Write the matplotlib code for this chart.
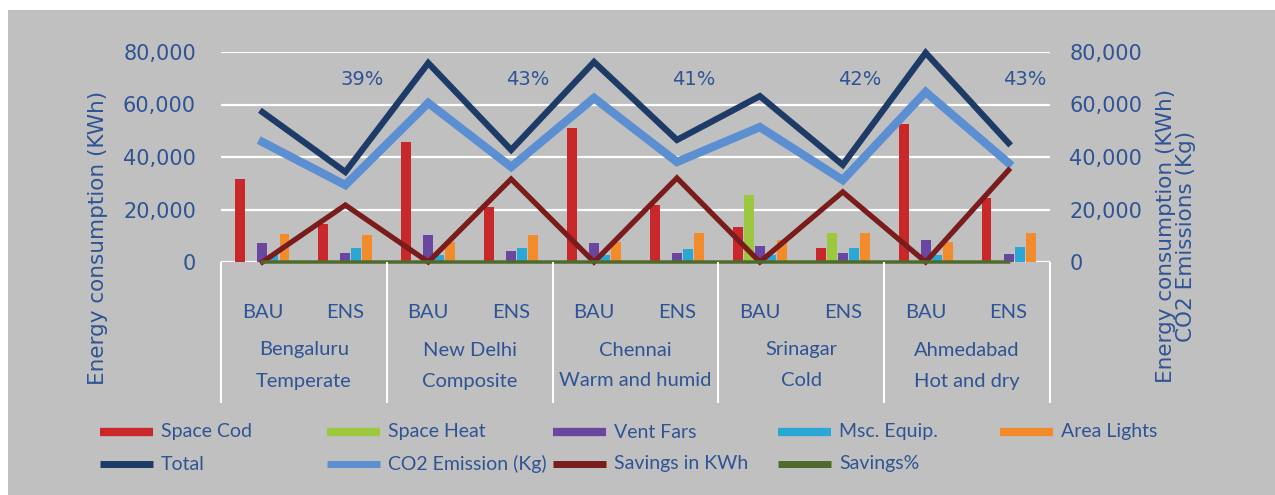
import matplotlib
matplotlib.use("Agg")
import matplotlib.pyplot as plt
import matplotlib.transforms as mtrans
from matplotlib.patches import Rectangle
from matplotlib.lines import Line2D
import numpy as np

# ---------------- data ----------------
scenarios = ["BAU", "ENS"] * 5
cities = ["Bengaluru", "New Delhi", "Chennai", "Srinagar", "Ahmedabad"]
climates = ["Temperate", "Composite", "Warm and humid", "Cold", "Hot and dry"]

space_cod = [31600, 14500, 45700, 21000, 51000, 21700, 13300, 5300, 52600, 24400]
space_heat = [0, 0, 0, 0, 0, 0, 25500, 11000, 0, 0]
vent_fars = [7200, 3400, 10300, 4200, 7200, 3400, 6100, 3400, 8400, 3000]
msc_equip = [2500, 5300, 2500, 5300, 2500, 5000, 2500, 5300, 2500, 5700]
area_lights = [10500, 10300, 7500, 10300, 7500, 11000, 8400, 11000, 7500, 11000]

total = [57100, 34300, 75800, 42700, 76200, 46500, 63200, 37000, 79700, 45300]
co2 = [45700, 29300, 60600, 36200, 62500, 38100, 51400, 31200, 64800, 37700]
savings_kwh = [0, 21700, 0, 31600, 0, 32000, 0, 26700, 0, 35000]
savings_pct = [0, 0.39, 0, 0.43, 0, 0.41, 0, 0.42, 0, 0.43]
pct_labels = ["39%", "43%", "41%", "42%", "43%"]

yticks = [0, 20000, 40000, 60000, 80000]

# ---------------- style ----------------
TXT = "#2f5496"
LEG_FONT = ["Lato", "DejaVu Sans"]
AX_FONT = ["DejaVu Sans"]
plt.rcParams["font.family"] = LEG_FONT

bar_series = [
    ("Space Cod", space_cod, "#c9282b"),
    ("Space Heat", space_heat, "#9cc83f"),
    ("Vent Fars", vent_fars, "#6b46a0"),
    ("Msc. Equip.", msc_equip, "#2ba7d6"),
    ("Area Lights", area_lights, "#f28b2c"),
]
line_series = [
    ("Total", total, "#1d3b66", 4.5),
    ("CO2 Emission (Kg)", co2, "#5b8fd2", 6.0),
    ("Savings in KWh", savings_kwh, "#7a1c1c", 3.8),
    ("Savings%", savings_pct, "#4f6b2b", 2.5),
]

W, H = 1275, 495
fig = plt.figure(figsize=(W / 100, H / 100), dpi=100)
fig.patch.set_facecolor("white")
fig.add_artist(Rectangle((8 / W, 0), 1 - 8 / W, 1 - 10 / H, transform=fig.transFigure,
                         facecolor="#c0c0c0", edgecolor="none", zorder=-10))

def fy(p):
    return 1 - p / H

x_left, x_right = 221, 1050
y_top, y_bot = 52, 262
ax = fig.add_axes([x_left / W, 1 - y_bot / H, (x_right - x_left) / W, (y_bot - y_top) / H])
ax.set_facecolor("none")
n = len(scenarios)
x = np.arange(n)
ax.set_xlim(-0.5, n - 0.5)
ax.set_ylim(0, 80000)
for s in ax.spines.values():
    s.set_visible(False)
ax.set_yticks(yticks)
ax.yaxis.grid(True, color="white", linewidth=1.6)
ax.set_axisbelow(True)
ax.tick_params(axis="both", length=0)
ax.set_xticks([])
ax.set_yticklabels([f"{v:,}" for v in yticks], color=TXT, fontsize=15, family=AX_FONT)
ax.tick_params(axis="y", pad=18)

ax2 = ax.twinx()
ax2.set_ylim(0, 80000)
for s in ax2.spines.values():
    s.set_visible(False)
ax2.set_yticks(yticks)
ax2.set_yticklabels([f"{v:,}" for v in yticks], color=TXT, fontsize=15, family=AX_FONT)
ax2.tick_params(axis="y", length=0, pad=14)
ax2.set_zorder(ax.get_zorder() - 1)

bw = 0.12
step = 0.133
for i, (name, vals, col) in enumerate(bar_series):
    ax.bar(x + (i - 2) * step, vals, width=bw, color=col, zorder=2)

for name, vals, col, lw in line_series:
    ax.plot(x, vals, color=col, linewidth=lw, solid_joinstyle="miter", zorder=3, clip_on=False)

ens_idx = x[1::2]
for xi, lab in zip(ens_idx, pct_labels):
    ax.text(xi + 0.2, 69500, lab, color=TXT, fontsize=14, ha="center", va="center",
            zorder=4, family=AX_FONT)

# axis titles
fig.text(98 / W, fy(238), "Energy consumption (KWh)", rotation=90, ha="center", va="center",
         color=TXT, fontsize=15.5, family=AX_FONT)
fig.text(1176 / W, fy(236), "Energy consumption (KWh)\nCO2 Emissions (Kg)", rotation=90,
         ha="center", va="center", color=TXT, fontsize=15.5, family=AX_FONT,
         linespacing=1.0, multialignment="center")

# category table below
tr = mtrans.blended_transform_factory(ax.transData, fig.transFigure)
for g in range(6):
    xb = g * 2 - 0.5
    fig.add_artist(Line2D([xb, xb], [fy(263), fy(402)], transform=tr, color="white", linewidth=1.5))
for xi, lab in zip(x, scenarios):
    fig.text(xi, fy(313), lab, transform=tr, ha="center", va="center", color=TXT, fontsize=14.5)
for g, (c, cl) in enumerate(zip(cities, climates)):
    xc = g * 2 + 0.5
    fig.text(xc, fy(350), c, transform=tr, ha="center", va="center", color=TXT, fontsize=14.5)
    fig.text(xc, fy(381), cl, transform=tr, ha="center", va="center", color=TXT, fontsize=14.5)

# legend (manual layout, column starts in pixels)
col_x = [100, 327, 553, 778, 1000]
hlen = 53
for cx, (name, vals, col) in zip(col_x, bar_series):
    fig.add_artist(Line2D([cx / W, (cx + hlen) / W], [fy(432), fy(432)], transform=fig.transFigure,
                          color=col, linewidth=6, solid_capstyle="butt"))
    fig.text((cx + hlen + 8) / W, fy(432), name, ha="left", va="center", color=TXT, fontsize=14)
for cx, (name, vals, col, lw) in zip(col_x, line_series):
    fig.add_artist(Line2D([cx / W, (cx + hlen) / W], [fy(464), fy(464)], transform=fig.transFigure,
                          color=col, linewidth=5, solid_capstyle="butt"))
    fig.text((cx + hlen + 8) / W, fy(464), name, ha="left", va="center", color=TXT, fontsize=14)

fig.savefig("out.png", dpi=100)
